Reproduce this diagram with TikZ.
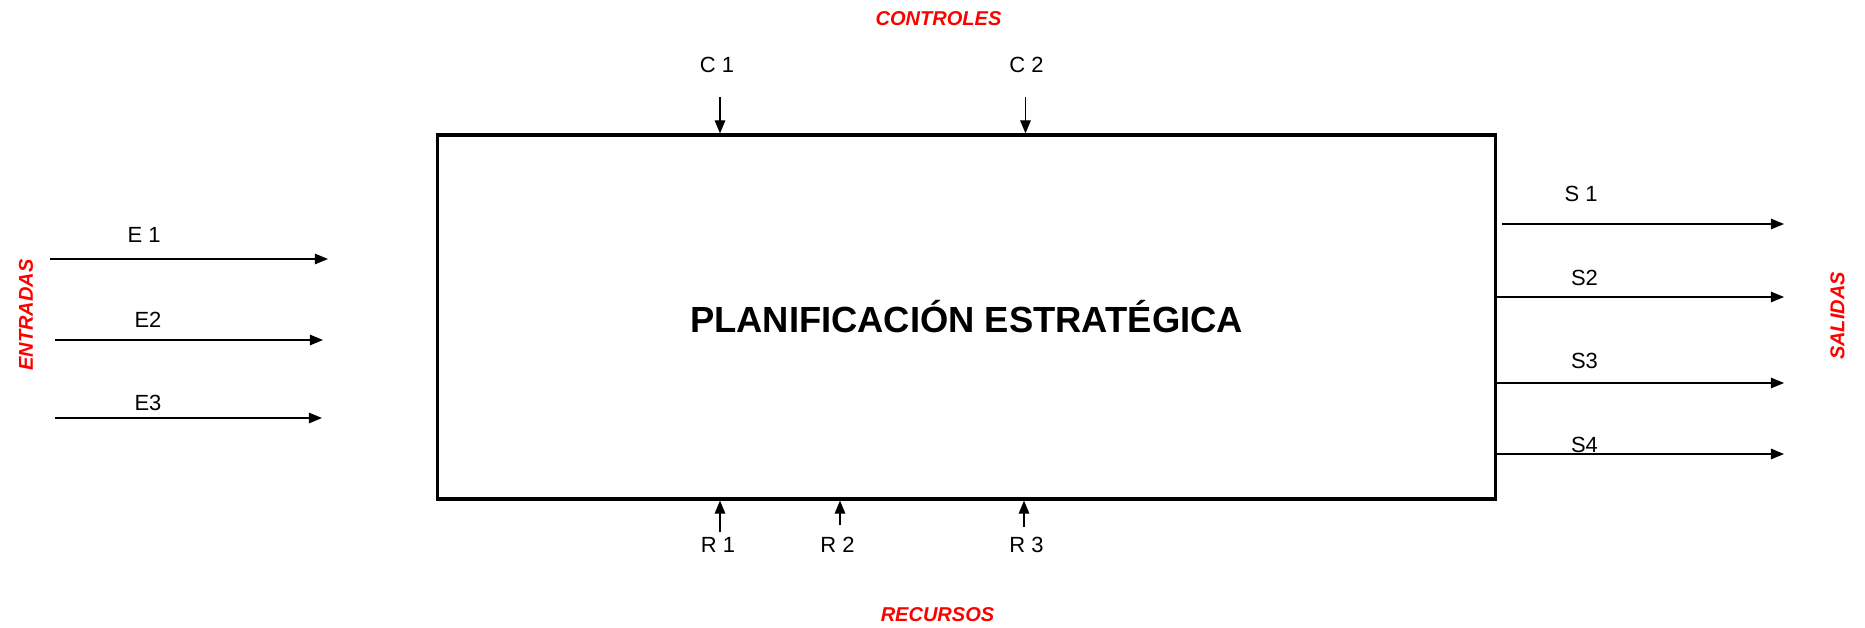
\documentclass[tikz,border=0pt]{standalone}
\usepackage{fontspec}
\setmainfont{Liberation Sans}
\usetikzlibrary{arrows.meta}
\usetikzlibrary{positioning}

\begin{document}
\begin{tikzpicture}[x=0.02cm,y=-0.02cm]
\tikzset{flow/.style={->,line width=0.8pt},
 >={Triangle[length=7.5pt,width=6pt]},
 lbl/.style={inner sep=0,font=\fontsize{12.5}{14}\selectfont},
 tag/.style={inner sep=0,text=red,font=\fontsize{11.4}{13}\selectfont\bfseries\itshape}}
\useasboundingbox (0,0) rectangle (1865,628);

\node[draw,line width=1.8pt,minimum width=21.18cm,minimum height=7.28cm,inner sep=0] (proc) at (966.5,317)
 {\fontsize{20.7}{24}\selectfont\bfseries PLANIFICACIÓN ESTRATÉGICA};

% entradas
\foreach \n/\t/\xa/\xb/\y/\lx/\ly in {1/E 1/50/328/259/144/235, 2/E2/55/323/340/148/319.5, 3/E3/55/322/418/148/403} {
\coordinate (e\n s) at (\xa,\y);
\coordinate (e\n e) at (\xb,\y);
\draw[flow] (e\n s) -- (e\n e);
\node[lbl] (le\n) at (\lx,\ly) {\t};
}
\node[tag,rotate=90] (tent) at (26,315) {ENTRADAS};

% salidas
\coordinate (s1s) at (1502,224);
\coordinate (s1) at (1784,224);
\draw[flow] (s1s) -- (s1);
\foreach \n/\y in {2/297,3/383,4/454} {
\coordinate (s\n) at (1784,\y);
\draw[flow] (proc.east |- s\n) -- (s\n);
}
\foreach \n/\t/\lx/\ly in {1/S 1/1581/194, 2/S2/1584.5/277.5, 3/S3/1584.5/360.5, 4/S4/1584.5/445} {
\node[lbl] (ls\n) at (\lx,\ly) {\t};
}
\node[tag,rotate=90] (tsal) at (1837.5,316) {SALIDAS};

% controles
\foreach \n/\x/\lx in {1/720/717, 2/1025.5/1026.5} {
\coordinate (c\n) at (\x,97);
\draw[flow] (c\n) -- (c\n |- proc.north);
\node[lbl] (lc\n) at (\lx,64.5) {C \n};
}
\node[tag] (tctrl) at (938.5,18.5) {CONTROLES};

% recursos
\foreach \n/\x/\y/\lx in {1/720/532/718, 2/840/525/837.5, 3/1024/527/1026.5} {
\coordinate (r\n) at (\x,\y);
\draw[flow] (r\n) -- (r\n |- proc.south);
\node[lbl] (lr\n) at (\lx,545) {R \n};
}
\node[tag] (trec) at (937.5,615) {RECURSOS};

\end{tikzpicture}
\end{document}
